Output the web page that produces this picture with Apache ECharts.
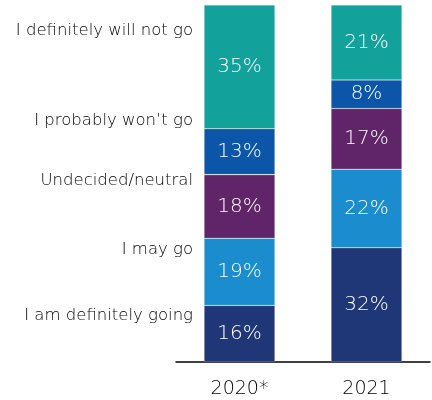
<!DOCTYPE html>
<html>
<head>
<meta charset="utf-8">
<script src="https://cdn.jsdelivr.net/npm/echarts@6/dist/echarts.min.js"></script>
<style>
  html, body { margin: 0; padding: 0; background: #fff; }
  #chart { width: 432px; height: 400px; }
</style>
</head>
<body>
<div id="chart"></div>
<script>
// Survey years on the x axis
const years = ['2020*', '2021'];

// Answer categories, from the bottom of the stack to the top
const answers = ['I am definitely going', 'I may go', 'Undecided/neutral', "I probably won\u2019t go", 'I definitely will not go'];

// Share of respondents (%) per answer, one entry per year
const definitelyGoing = [16, 32];
const mayGo = [19, 22];
const undecided = [18, 17];
const probablyNot = [13, 8];
const definitelyNot = [35, 21];

const seriesValues = [definitelyGoing, mayGo, undecided, probablyNot, definitelyNot];
const colors = ['#1f3776', '#1b8dcf', '#5f2568', '#0c56a9', '#13a19b'];

// Left-hand answer labels: vertical centre of each label
const answerLabelY = [316, 250, 181, 121, 31];

// Each year's bar is scaled so its reported shares fill the full height
const totals = years.map((_, i) => seriesValues.reduce((s, arr) => s + arr[i], 0));

const FONT = "'DejaVu Sans'";

const chart = echarts.init(document.getElementById('chart'));
chart.setOption({
  animation: false,
  backgroundColor: '#fff',
  grid: { left: 176, right: 2, top: 5, bottom: 38 },
  xAxis: {
    type: 'category',
    data: years,
    axisLine: { show: true, lineStyle: { color: '#000', width: 1.5 } },
    axisTick: { show: false },
    axisLabel: { color: '#000', fontSize: 19, fontFamily: FONT, fontWeight: 200, margin: 18 }
  },
  yAxis: {
    type: 'value',
    min: 0,
    max: 100,
    show: false
  },
  graphic: answers.map((a, i) => ({
    type: 'text',
    right: 432 - 193,
    top: answerLabelY[i] - 9,
    style: { text: a, fill: '#000', font: "200 16.5px " + FONT, textAlign: 'right' }
  })),
  series: seriesValues.map((vals, k) => ({
    name: answers[k],
    type: 'bar',
    stack: 'share',
    barWidth: 71,
    data: vals.map((v, i) => ({ value: v / totals[i] * 100, raw: v })),
    itemStyle: { color: colors[k], borderColor: 'rgba(255,255,255,0.35)', borderWidth: 0.6 },
    label: {
      show: true,
      position: 'inside',
      color: '#fff',
      fontSize: 20,
      fontFamily: FONT,
      fontWeight: 200,
      formatter: p => p.data.raw + '%'
    }
  }))
});
</script>
</body>
</html>
